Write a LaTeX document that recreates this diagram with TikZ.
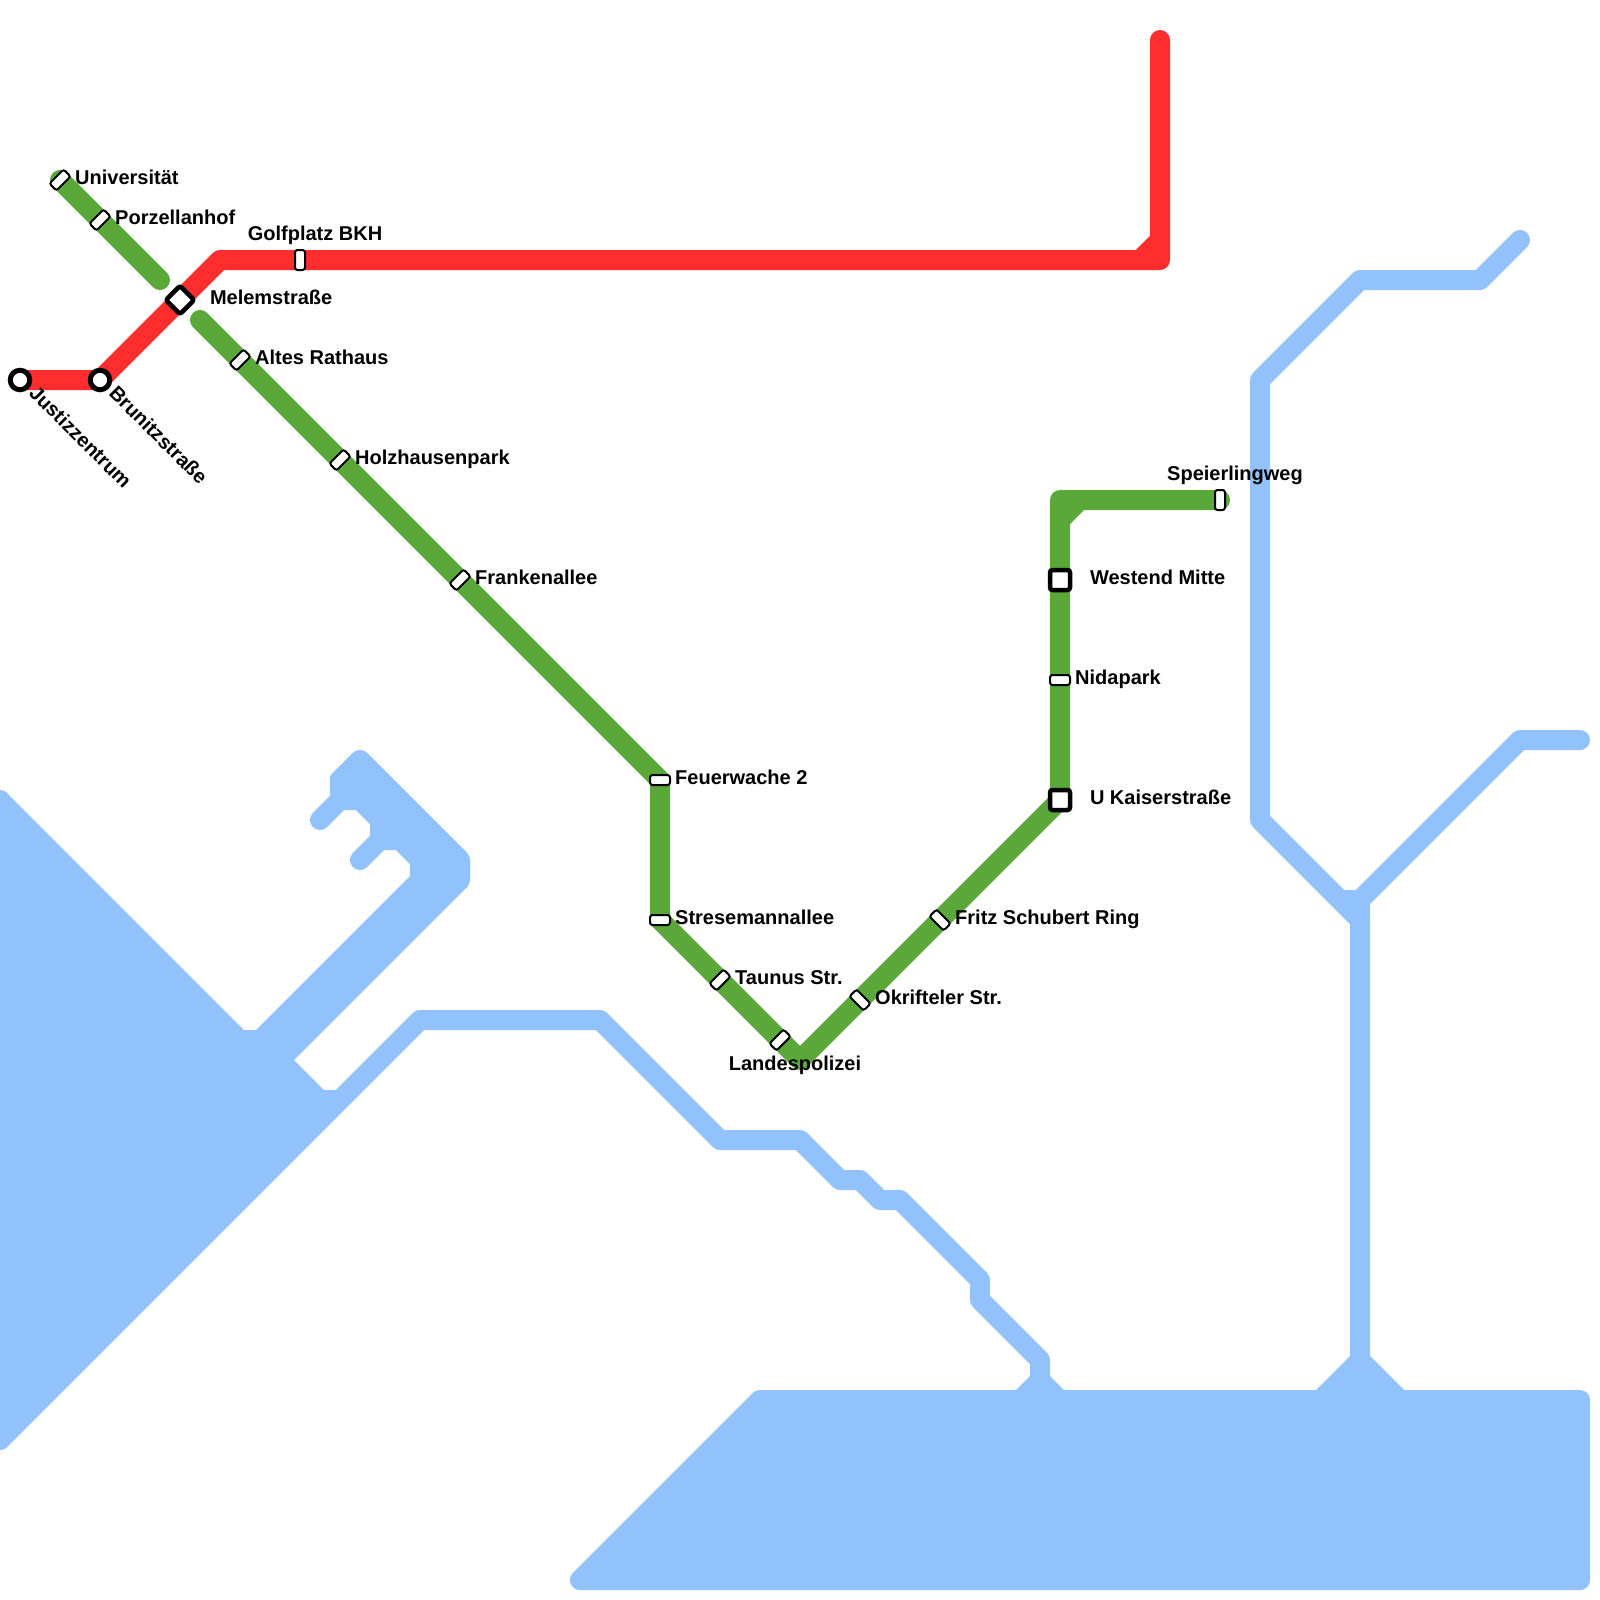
\documentclass[tikz,border=0pt]{standalone}
\usepackage{fontspec}
\setmainfont{Liberation Sans}
\usetikzlibrary{backgrounds}
\definecolor{lred}{RGB}{255,45,45}
\definecolor{lgreen}{RGB}{90,168,58}
\definecolor{lblue}{RGB}{146,194,251}
\tikzset{
  metro/.style={line width=20pt,line cap=round,line join=round},
  chamfer/.style={line width=20pt,line cap=butt},
  stn/.style={draw=black,fill=white,line width=2pt,rounded corners=2.5pt,minimum width=10pt,minimum height=20pt,inner sep=0pt,outer sep=0pt},
  hub/.style={draw=black,fill=white,line width=4.5pt,rounded corners=2.5pt,minimum size=20pt,inner sep=0pt,outer sep=0pt},
  ringstn/.style={circle,draw=black,fill=white,line width=5pt,minimum size=19.5pt,inner sep=0pt,outer sep=0pt},
  lbl/.style={anchor=base west,inner sep=0pt,outer sep=0pt,text=black,font=\fontsize{20}{24}\selectfont\bfseries},
  lblc/.style={lbl,anchor=base}
}
\begin{document}
\begin{tikzpicture}[x=1pt,y=-1pt]
\useasboundingbox (0,0) rectangle (1600,1600);

% stations
\node[stn,rotate=-45] (uni) at (60,180) {};
\node[stn,rotate=-45] (porz) at (100,220) {};
\node[hub,rotate=45] (melem) at (180,300) {};
\node[stn] (golf) at (300,260) {};
\node[ringstn] (justiz) at (20,380) {};
\node[ringstn] (brunitz) at (100,380) {};
\node[stn,rotate=-45] (altes) at (240,360) {};
\node[stn,rotate=-45] (holz) at (340,460) {};
\node[stn,rotate=-45] (frank) at (460,580) {};
\node[stn,rotate=90] (feuer) at (660,780) {};
\node[stn,rotate=90] (strese) at (660,920) {};
\node[stn,rotate=-45] (taunus) at (720,980) {};
\node[stn,rotate=-45] (landes) at (780,1040) {};
\node[stn,rotate=45] (okrif) at (860,1000) {};
\node[stn,rotate=45] (fritz) at (940,920) {};
\node[hub] (kaiser) at (1060,800) {};
\node[stn,rotate=90] (nida) at (1060,680) {};
\node[hub] (westend) at (1060,580) {};
\node[stn] (speier) at (1220,500) {};

% labels
\node[lbl] (tuni) at (75.2,184.7) {Universität};
\node[lbl] (tporz) at (115.2,224.7) {Porzellanhof};
\node[lblc] (tgolf) at (315,240) {Golfplatz BKH};
\node[lbl] (tmelem) at (210,304.7) {Melemstraße};
\node[lbl] (taltes) at (255.2,364.7) {Altes Rathaus};
\node[lbl] (tholz) at (355.2,464.7) {Holzhausenpark};
\node[lbl] (tfrank) at (475.2,584.7) {Frankenallee};
\node[lbl] (tfeuer) at (675.2,784.7) {Feuerwache 2};
\node[lbl] (tstrese) at (675.2,924.7) {Stresemannallee};
\node[lbl] (ttaunus) at (735.2,984.7) {Taunus Str.};
\node[lblc] (tlandes) at (795,1070) {Landespolizei};
\node[lbl] (tokrif) at (875.2,1004.7) {Okrifteler Str.};
\node[lbl] (tfritz) at (955.2,924.7) {Fritz Schubert Ring};
\node[lbl] (tkaiser) at (1090,804.7) {U Kaiserstraße};
\node[lbl] (tnida) at (1075.2,684.7) {Nidapark};
\node[lbl] (twestend) at (1090,584.7) {Westend Mitte};
\node[lblc] (tspeier) at (1235,480) {Speierlingweg};
\node[lbl,rotate=-45] (tjustiz) at (28,394.3) {Justizzentrum};
\node[lbl,rotate=-45] (tbrunitz) at (108,394.3) {Brunitzstraße};

\begin{scope}[on background layer]
  % water: left body
  \fill[lblue] (0,800) -- (7,793) -- (244,1030) -- (256,1030) -- (410,876) -- (410,864) -- (396,850) -- (383,850)
    -- (370,836) -- (370,824) -- (356,810) -- (344,810) -- (330,796) -- (330,776) -- (353,753) -- (367,753)
    -- (467,853) -- (470,860) -- (470,880) -- (467,887) -- (294,1060) -- (324,1090) -- (336,1090) -- (340,1100)
    -- (0,1440) -- cycle;
  \draw[metro,lblue] (340,780) -- (360,760) -- (460,860) -- (460,880);
  \draw[metro,lblue] (0,800) -- (0,1440) -- (340,1100);
  \draw[metro,lblue] (320,820) -- (340,800);
  \draw[metro,lblue] (360,860) -- (380,840);
  % water: bottom body
  \fill[lblue] (580,1580) -- (1580,1580) -- (1580,1400) -- (760,1400) -- cycle;
  \draw[metro,lblue] (580,1580) -- (1580,1580) -- (1580,1400) -- (760,1400) -- cycle;
  \fill[lblue] (1014,1392) -- (1030,1376) -- (1050,1376) -- (1066,1392) -- cycle;
  \fill[lblue] (1314,1392) -- (1350,1356) -- (1370,1356) -- (1406,1392) -- cycle;
  % water: river
  \draw[metro,lblue] (340,1100) -- (420,1020) -- (600,1020) -- (720,1140) -- (800,1140) -- (840,1180) -- (860,1180)
    -- (880,1200) -- (900,1200) -- (980,1280) -- (980,1300) -- (1040,1360) -- (1040,1400);
  % water: right branches
  \draw[metro,lblue] (1520,240) -- (1480,280) -- (1360,280) -- (1260,380) -- (1260,820) -- (1360,920) -- (1360,1400);
  \draw[metro,lblue] (1580,740) -- (1520,740) -- (1360,900);
  \draw[chamfer,lblue] (1340,900) -- (1360,900) -- (1360,920);

  % green line
  \coordinate (gA) at (160,280);
  \coordinate (gB) at (200,320);
  \coordinate (gV) at (800,1060);
  \coordinate (gC) at (1060,500);
  \coordinate (gD) at (1060,520);
  \coordinate (gE) at (1080,500);
  \draw[metro,lgreen] (uni.center) -- (porz.center) -- (gA);
  \draw[metro,lgreen] (gB) -- (altes.center) -- (holz.center) -- (frank.center) -- (feuer.center) -- (strese.center)
    -- (taunus.center) -- (landes.center) -- (gV) -- (okrif.center) -- (fritz.center) -- (kaiser.center)
    -- (nida.center) -- (westend.center) -- (gC) -- (speier.center);
  \draw[chamfer,lgreen] (gD) -- (gE);

  % red line
  \coordinate (rA) at (220,260);
  \coordinate (rB) at (1160,260);
  \coordinate (rC) at (1160,40);
  \coordinate (rD) at (1140,260);
  \coordinate (rE) at (1160,240);
  \draw[metro,lred] (justiz.center) -- (brunitz.center) -- (melem.center) -- (rA) -- (golf.center) -- (rB) -- (rC);
  \draw[chamfer,lred] (rD) -- (rE);
\end{scope}
\end{tikzpicture}
\end{document}
